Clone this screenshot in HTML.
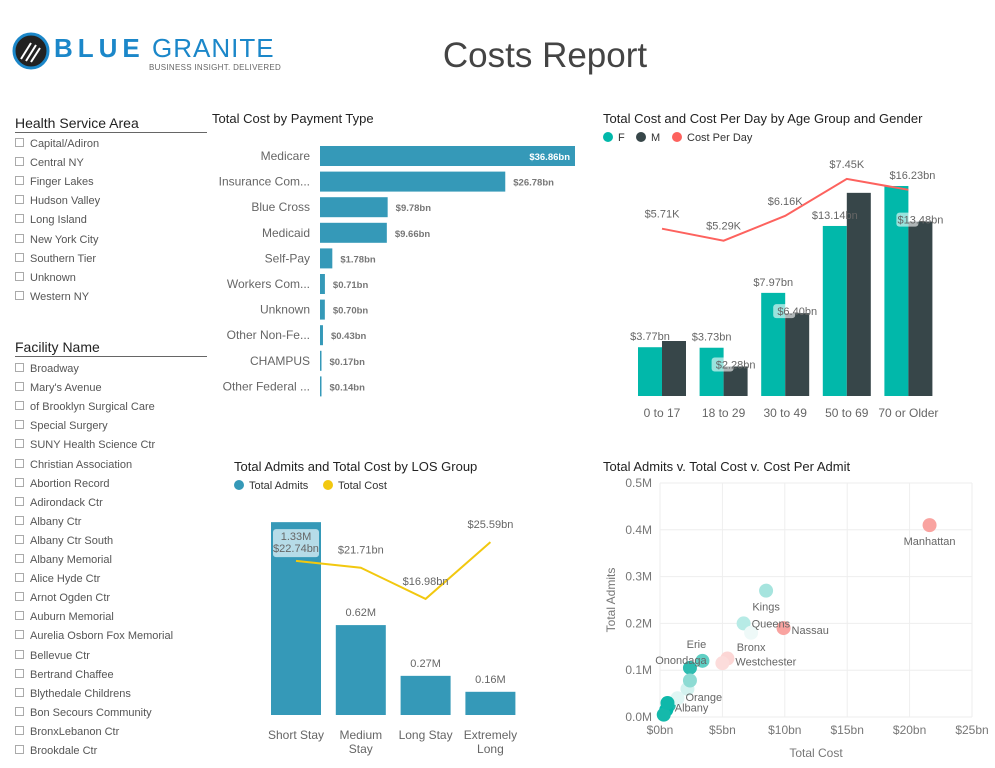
<!DOCTYPE html>
<html><head><meta charset="utf-8">
<style>
html,body{margin:0;padding:0;background:#fff;width:995px;height:768px;overflow:hidden;font-family:"Liberation Sans",sans-serif;}
svg text{font-family:"Liberation Sans",sans-serif;}
.slicer-title{position:absolute;left:15px;width:192px;font-size:14px;color:#222;border-bottom:1px solid #666;padding-bottom:1px;}
.item{position:absolute;left:15px;font-size:11px;color:#555;white-space:nowrap;}
.item span{display:inline-block;width:7px;height:7px;border:1px solid #aaa;margin-right:6px;vertical-align:0px;}
</style></head>
<body>
<div style="position:absolute;left:12px;top:32px;width:280px;height:42px;">
  <svg width="40" height="40"><circle cx="19" cy="19" r="17" fill="#222" stroke="#1b87c9" stroke-width="3"/><line x1="9" y1="27" x2="19" y2="11" stroke="#fff" stroke-width="2"/><line x1="14" y1="29" x2="24" y2="13" stroke="#fff" stroke-width="2"/><line x1="19" y1="30" x2="28" y2="16" stroke="#fff" stroke-width="2"/></svg>
  <div style="position:absolute;left:42px;top:1px;font-size:26px;font-weight:bold;color:#1b87c9;letter-spacing:5px;white-space:nowrap;">BLUE</div>
  <div style="position:absolute;left:140px;top:1px;font-size:26px;color:#1b87c9;letter-spacing:1px;white-space:nowrap;">GRANITE</div>
  <div style="position:absolute;left:137px;top:31px;font-size:8px;color:#666;letter-spacing:0.3px;white-space:nowrap;">BUSINESS INSIGHT. DELIVERED</div>
</div>
<div style="position:absolute;left:0;width:1090px;top:36px;text-align:center;font-size:35px;color:#444;">Costs Report</div>

<div class="slicer-title" style="top:115px;">Health Service Area</div>
<div id="hsa"></div>
<div class="slicer-title" style="top:339px;">Facility Name</div>
<div id="fac"></div>

<svg id="charts" width="995" height="768" style="position:absolute;left:0;top:0"></svg>

<script>
// Slicers
const hsaItems=["Capital/Adiron","Central NY","Finger Lakes","Hudson Valley","Long Island","New York City","Southern Tier","Unknown","Western NY"];
const facItems=["Broadway","Mary's Avenue","of Brooklyn Surgical Care","Special Surgery","SUNY Health Science Ctr","Christian Association","Abortion Record","Adirondack Ctr","Albany Ctr","Albany Ctr South","Albany Memorial","Alice Hyde Ctr","Arnot Ogden Ctr","Auburn Memorial","Aurelia Osborn Fox Memorial","Bellevue Ctr","Bertrand Chaffee","Blythedale Childrens","Bon Secours Community","BronxLebanon Ctr","Brookdale Ctr"];
function slicer(id,items,top){
  const c=document.getElementById(id);
  items.forEach((t,i)=>{
    const d=document.createElement('div');
    d.className='item';
    d.style.top=(top+i*19.1)+'px';
    d.innerHTML='<span></span>'+t;
    
    
    c.appendChild(d);
  });
}
slicer('hsa',hsaItems,138);
slicer('fac',facItems,363);

// Chart data
const payTypes=["Medicare","Insurance Com...","Blue Cross","Medicaid","Self-Pay","Workers Com...","Unknown","Other Non-Fe...","CHAMPUS","Other Federal ..."];
const payCost=[36.86,26.78,9.78,9.66,1.78,0.71,0.70,0.43,0.17,0.14];

const ageGroups=["0 to 17","18 to 29","30 to 49","50 to 69","70 or Older"];
const ageF=[3.77,3.73,7.97,13.14,16.23];
const ageM=[4.25,2.28,6.40,15.7,13.48];
const costPerDay=[5.71,5.29,6.16,7.45,7.07];
const costPerDayLabels=["$5.71K","$5.29K","$6.16K","$7.45K",""];
const fLabels=["$3.77bn","$3.73bn","$7.97bn","$13.14bn","$16.23bn"];
const mLabels=["","$2.28bn","$6.40bn","","$13.48bn"];

const losGroups=[["Short Stay"],["Medium","Stay"],["Long Stay"],["Extremely","Long"]];
const losAdmits=[1.33,0.62,0.27,0.16];
const losCost=[22.74,21.71,16.98,25.59];

const scNames=["Manhattan","Kings","Queens","Nassau","Bronx","Erie","Onondaga","Westchester","","Orange","","Albany","","","",""];
const scCost=[21.6,8.5,6.7,9.9,7.3,3.4,2.4,5.4,5.0,2.2,2.4,0.7,1.4,0.5,0.3,0.6];
const scAdmits=[0.41,0.27,0.2,0.19,0.18,0.12,0.105,0.125,0.115,0.06,0.078,0.025,0.04,0.015,0.005,0.03];
const scColor=["#f9a3a0","#a6e4de","#b7ebe6","#f9a3a0","#eef9f8","#5fcfc4","#2ebcb0","#fcd6d5","#fcdcdb","#d3f2ef","#8ddbd3","#1fb8ab","#e0f6f4","#01b8aa","#15b9ab","#0fb8aa"];

const svg=document.getElementById('charts');
const NS='http://www.w3.org/2000/svg';
function el(tag,attrs,parent){const e=document.createElementNS(NS,tag);for(const k in attrs)e.setAttribute(k,attrs[k]);(parent||svg).appendChild(e);return e;}
function txt(x,y,s,attrs,parent){const t=el('text',Object.assign({x:x,y:y},attrs),parent);t.textContent=s;return t;}

// Chart 1
const g1=el('g',{});


const t1=txt(212,123,"Total Cost by Payment Type",{'font-size':13,fill:'#222'},g1);


const x1=v=>320+v*(255/36.86);
const y1=i=>156+i*25.6;
payTypes.forEach((p,i)=>{
  const w=Math.max(1.5,x1(payCost[i])-320);
  const r=el('rect',{x:320,y:y1(i)-10,width:w,height:20,fill:'#3599b8'},g1);
  
  
  const l=txt(310,y1(i)+4,p,{'font-size':12,fill:'#666','text-anchor':'end'},g1);
  
  
  const lab='$'+payCost[i].toFixed(2)+'bn';
  let v;
  if(i===0) v=txt(x1(payCost[i])-5,y1(i)+4,lab,{'font-size':9.5,fill:'#fff','font-weight':'bold','text-anchor':'end'},g1);
  else v=txt(320+w+8,y1(i)+4,lab,{'font-size':9.5,fill:'#777','font-weight':'bold'},g1);
  
  
});

// Chart 2
const g2=el('g',{});


const t2=txt(603,123,"Total Cost and Cost Per Day by Age Group and Gender",{'font-size':13,fill:'#222'},g2);


[["F","#01b8aa",608],["M","#374649",641],["Cost Per Day","#fd625e",677]].forEach(l=>{
  const c=el('circle',{cx:l[2],cy:137,r:5,fill:l[1]},g2);
  
  
  const t=txt(l[2]+10,141,l[0],{'font-size':11,fill:'#333'},g2);
  
  
});
const base2=396, sc2=12.94;
const cx2=i=>662+i*61.6;
const yLine2=v=>392-v*28.6;
ageGroups.forEach((a,i)=>{
  const hF=ageF[i]*sc2, hM=ageM[i]*sc2;
  const bf=el('rect',{x:cx2(i)-24,y:base2-hF,width:24,height:hF,fill:'#01b8aa'},g2);
  
  
  const bm=el('rect',{x:cx2(i),y:base2-hM,width:24,height:hM,fill:'#374649'},g2);
  
  
  const xl=txt(cx2(i),417,a,{'font-size':12,fill:'#666','text-anchor':'middle'},g2);
  
  
});
const pts2=costPerDay.map((v,i)=>cx2(i)+','+yLine2(v)).join(' ');
const pl2=el('polyline',{points:pts2,fill:'none',stroke:'#fd625e','stroke-width':2},g2);


ageGroups.forEach((a,i)=>{
  const fl=txt(i===4?cx2(i)+4:cx2(i)-12,base2-ageF[i]*sc2-7,fLabels[i],{'font-size':11,fill:'#666','text-anchor':'middle'},g2);
  
  
  if(mLabels[i]){
    const my=base2-ageM[i]*sc2;
    const bg=el('rect',{x:cx2(i)-12,y:my-9,width:22,height:14,rx:3,fill:'#fff',opacity:0.6},g2);
    
    
    const ml=txt(cx2(i)+12,my+2,mLabels[i],{'font-size':11,fill:'#666','text-anchor':'middle'},g2);
    
    
  }
  if(costPerDayLabels[i]){
    const cl=txt(cx2(i),yLine2(costPerDay[i])-11,costPerDayLabels[i],{'font-size':11,fill:'#666','text-anchor':'middle'},g2);
    
    
  }
});

// Chart 3
const g3=el('g',{});


const t3=txt(234,471,"Total Admits and Total Cost by LOS Group",{'font-size':13,fill:'#222'},g3);


[["Total Admits","#3599b8",239],["Total Cost","#f2c80f",328]].forEach(l=>{
  const c=el('circle',{cx:l[2],cy:485,r:5,fill:l[1]},g3);
  
  
  const t=txt(l[2]+10,489,l[0],{'font-size':11,fill:'#333'},g3);
  
  
});
const base3=715, sc3=145;
const cx3=i=>296+i*64.8;
const yLine3=v=>711-v*6.6;
losGroups.forEach((g,i)=>{
  const h=losAdmits[i]*sc3;
  const b=el('rect',{x:cx3(i)-25,y:base3-h,width:50,height:h,fill:'#3599b8'},g3);
  
  
  g.forEach((line,j)=>{
    const xl=txt(cx3(i),739+j*14,line,{'font-size':12,fill:'#666','text-anchor':'middle'},g3);
    
    
  });
  if(i===0){
    const hb=el('rect',{x:cx3(i)-23,y:base3-h+7,width:46,height:28,rx:3,fill:'#cde8f0',opacity:0.85},g3);
    
    
  }
  const al=txt(cx3(i),i===0?base3-h+18:base3-h-9,losAdmits[i].toFixed(2)+'M',{'font-size':11,fill:'#666','text-anchor':'middle'},g3);
  
  
});
const pl3=el('polyline',{points:losCost.map((v,i)=>cx3(i)+','+yLine3(v)).join(' '),fill:'none',stroke:'#f2c80f','stroke-width':2},g3);


losCost.forEach((v,i)=>{
  const cl=txt(cx3(i),i===0?yLine3(v)-9:yLine3(v)-14,'$'+v.toFixed(2)+'bn',{'font-size':11,fill:'#666','text-anchor':'middle'},g3);
  
  
});

// Chart 4 scatter
const g4=el('g',{});


const t4=txt(603,471,"Total Admits v. Total Cost v. Cost Per Admit",{'font-size':13,fill:'#222'},g4);


const xTicks=[0,5,10,15,20,25];
const yTicks=[0,0.1,0.2,0.3,0.4,0.5];
const sx=v=>660+v*(312/25);
const sy=v=>717-v*(234/0.5);
xTicks.forEach(t=>{
  el('line',{x1:sx(t),x2:sx(t),y1:483,y2:717,stroke:'#eee','stroke-width':1},g4);
  const l=txt(sx(t),734,'$'+t+'bn',{'font-size':12,fill:'#777','text-anchor':'middle'},g4);
  
  
});
yTicks.forEach(t=>{
  el('line',{x1:660,x2:972,y1:sy(t),y2:sy(t),stroke:'#eee','stroke-width':1},g4);
  const l=txt(652,sy(t)+4,t.toFixed(1)+'M',{'font-size':12,fill:'#777','text-anchor':'end'},g4);
  
  
});
const xt=txt(816,757,'Total Cost',{'font-size':12,fill:'#777','text-anchor':'middle'},g4);


const yt=txt(0,0,'Total Admits',{'font-size':12,fill:'#777','text-anchor':'middle',transform:'translate(615,600) rotate(-90)'},g4);


scCost.forEach((c,i)=>{
  const p=el('circle',{cx:sx(c),cy:sy(scAdmits[i]),r:7,fill:scColor[i]},g4);
  
  
});
const lblOff={"Manhattan":[0,20,'middle'],"Kings":[0,20,'middle'],"Queens":[8,4,'start'],"Nassau":[8,6,'start'],"Bronx":[0,18,'middle'],"Erie":[-6,-13,'middle'],"Onondaga":[-9,-4,'middle'],"Westchester":[8,7,'start'],"Orange":[-2,12,'start'],"Albany":[6,6,'start']};
scNames.forEach((n,i)=>{
  if(!n)return;
  const o=lblOff[n]||[8,4,'start'];
  const l=txt(sx(scCost[i])+o[0],sy(scAdmits[i])+o[1],n,{'font-size':11,fill:'#666','text-anchor':o[2]},g4);
  
  
});
</script>
</body></html>
